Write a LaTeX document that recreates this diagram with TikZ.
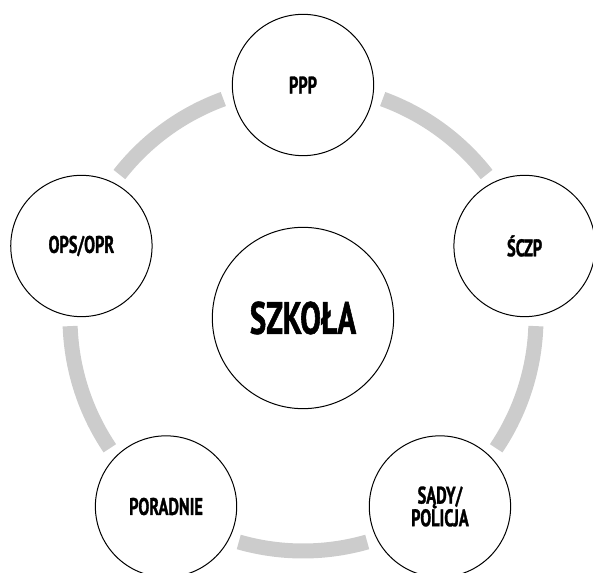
\documentclass[tikz,border=0pt]{standalone}
\usepackage{fontspec}
\setmainfont{PT Sans}[FakeStretch=0.68, BoldFeatures={FakeBold=1.2}]
\usepackage{xcolor}
\definecolor{ringgray}{HTML}{CCCCCC}
\tikzset{
    member/.style={circle, draw, line width=0.75pt, fill=white, minimum size=106pt, inner sep=0pt, align=center,
        font=\fontsize{18}{17}\selectfont\bfseries},
    hub/.style={circle, draw, line width=0.75pt, fill=white, minimum size=136pt, inner sep=0pt,
        font=\fontsize{34}{32}\selectfont\bfseries},
    ring/.style={ringgray, line width=11.25pt}
}

\begin{document}
\begin{tikzpicture}[x=0.75pt, y=0.75pt]
    \useasboundingbox (-303,-255) rectangle (290,318);

    % ring between the partners
    \foreach \a in {90,18,-54,-126,162}
        \draw[ring] (\a-20:233) arc[start angle=\a-20, delta angle=-32, radius=233];

    \node[hub] (szkola) at (0, 0) {SZKOŁA};
    \node[member] (ppp) at (90:233) {PPP};
    \node[member] (sczp) at (18:233) {ŚCZP};
    \node[member] (sady) at (-54:233) {SĄDY/\\POLICJA};
    \node[member] (poradnie) at (-126:233) {PORADNIE};
    \node[member] (ops) at (162:233) {OPS/OPR};
\end{tikzpicture}
\end{document}
